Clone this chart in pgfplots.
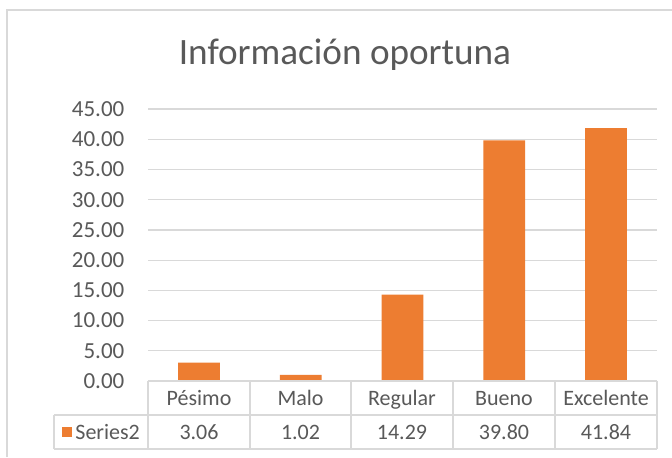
\documentclass[border=0pt]{standalone}
\usepackage{fontspec}
\setmainfont{Carlito}
\usepackage{pgfplots}
\pgfplotsset{compat=1.18}
\definecolor{xorange}{HTML}{ED7D31}
\definecolor{xtext}{HTML}{595959}
\definecolor{xgrid}{HTML}{D9D9D9}
\definecolor{xborder}{HTML}{D9D9D9}
\begin{document}
\begin{tikzpicture}
\useasboundingbox (0,0) rectangle (336pt,228.5pt);
\fill[white] (0,0) rectangle (336pt,228.5pt);
\begin{axis}[
  at={(74pt,38pt)}, anchor=south west,
  scale only axis, width=254.5pt, height=136pt,
  xmin=-0.5, xmax=4.5, ymin=0, ymax=45,
  ytick distance=5,
  xtick=\empty,
  axis line style={draw=none},
  major tick style={draw=none},
  ymajorgrids, grid style={xgrid,line width=0.6pt},
  yticklabel style={text=xtext,font=\fontsize{11.5}{14}\selectfont,xshift=-8.3pt,
    /pgf/number format/.cd,fixed,fixed zerofill,precision=2,assume math mode=true},
  ybar, bar width=0.41,
  clip=false,
]
\addplot[fill=xorange,draw=none] coordinates {(0,3.06) (1,1.02) (2,14.29) (3,39.80) (4,41.84)};
\end{axis}
\begin{scope}[x=0.5pt,y=-0.5pt,shift={(0,228.5pt)}]
\draw[xborder,line width=0.9pt] (7,457) -- (7,10) -- (672,10);
\node[text=xtext,font=\fontsize{18.6}{22}\selectfont] at (345,55) {Información oportuna};
\begin{scope}[xgrid,line width=0.6pt]
\draw (148,381) -- (657,381);
\draw (54,415) -- (657,415);
\draw (54,449) -- (657,449);
\draw (54,415) -- (54,449);
\foreach \x in {148,250,351,453,555,657} {\draw (\x,381) -- (\x,449);}
\end{scope}
\begin{scope}[every node/.style={text=xtext,font=\fontsize{11}{13}\selectfont,anchor=base,inner sep=0pt}]
\node at (199,405) {Pésimo};
\node at (300.5,405) {Malo};
\node at (402,405) {Regular};
\node at (504,405) {Bueno};
\node at (606,405) {Excelente};
\node at (199,439) {3.06};
\node at (300.5,439) {1.02};
\node at (402,439) {14.29};
\node at (504,439) {39.80};
\node at (606,439) {41.84};
\node[anchor=base west] at (75,439) {Series2};
\end{scope}
\fill[xorange] (62,427) rectangle (72,437);
\end{scope}
\end{tikzpicture}
\end{document}
